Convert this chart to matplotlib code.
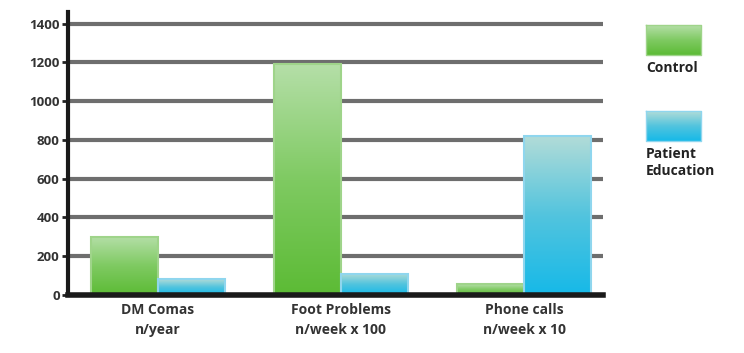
import numpy as np
import matplotlib.pyplot as plt
from matplotlib.colors import LinearSegmentedColormap

# --- data ---
categories = ["DM Comas\nn/year", "Foot Problems\nn/week x 100", "Phone calls\nn/week x 10"]
control = [300, 1190, 55]
patient_education = [80, 110, 820]
y_ticks = [0, 200, 400, 600, 800, 1000, 1200, 1400]

plt.rcParams['font.family'] = ['Open Sans', 'DejaVu Sans']

fig = plt.figure(figsize=(7.44, 3.53), dpi=100)
ax = fig.add_axes([68 / 744, 58 / 353, 535 / 744, 283 / 353])

x = np.arange(len(categories))
w = 0.365

# gradient maps, light at the top and saturated at the bottom
green_cm = LinearSegmentedColormap.from_list("g", ["#5cbb35", "#7fca62", "#b5dfa8"])
blue_cm = LinearSegmentedColormap.from_list("b", ["#16b9e8", "#52c4de", "#b2dcd8"])
grad = np.linspace(0, 1, 256).reshape(-1, 1)

def gradient_bars(bars, cmap, edge):
    for b in bars:
        x0, y0 = b.get_x(), b.get_y()
        bw, bh = b.get_width(), b.get_height()
        b.set_facecolor("none")
        b.set_edgecolor(edge)
        b.set_linewidth(1.5)
        im = ax.imshow(grad, cmap=cmap, aspect="auto", origin="lower",
                       extent=[x0, x0 + bw, y0, y0 + bh], zorder=2)
        im.set_clip_path(b)

bars_c = ax.bar(x - w / 2, control, w, zorder=3, label="Control")
bars_e = ax.bar(x + w / 2, patient_education, w, zorder=3, label="Patient\nEducation")
gradient_bars(bars_c, green_cm, "#9fd48a")
gradient_bars(bars_e, blue_cm, "#8fd6ee")

ax.set_xlim(-0.49, 2.43)
ax.set_ylim(0, 1460)

# thick grey gridlines
for t in y_ticks[1:]:
    ax.axhline(t, color="#6e6e6e", lw=3, zorder=1)

ax.set_yticks(y_ticks)
ax.set_yticklabels([str(t) for t in y_ticks], fontsize=9.5, fontweight="bold", color="#333333")
ax.tick_params(axis="y", length=4, width=2, color="#222222", pad=2)
ax.set_xticks(x)
ax.set_xticklabels(categories, fontsize=10, fontweight="bold", color="#333333", linespacing=1.5)
ax.tick_params(axis="x", length=0, pad=6)

for s in ["top", "right"]:
    ax.spines[s].set_visible(False)
ax.spines["left"].set_linewidth(3)
ax.spines["left"].set_color("#1a1a1a")
ax.spines["bottom"].set_linewidth(4)
ax.spines["bottom"].set_color("#1a1a1a")
ax.spines["bottom"].set_zorder(4)

# legend drawn by hand at the right
leg_ax = fig.add_axes([640 / 744, 0, 104 / 744, 1])
leg_ax.set_xlim(0, 104)
leg_ax.set_ylim(353, 0)
leg_ax.axis("off")
for (top, cmap, edge, label) in [(25, green_cm, "#9fd48a", "Control"),
                                  (111, blue_cm, "#8fd6ee", "Patient\nEducation")]:
    im = leg_ax.imshow(grad, cmap=cmap, aspect="auto", origin="lower",
                       extent=[6, 61, top + 30, top])
    leg_ax.plot([6, 61, 61, 6, 6], [top, top, top + 30, top + 30, top], color=edge, lw=1)
    leg_ax.text(6, top + 36, label, fontsize=10, fontweight="bold", color="#222222",
                va="top", ha="left", linespacing=1.3)

fig.savefig("out.png", dpi=100)
